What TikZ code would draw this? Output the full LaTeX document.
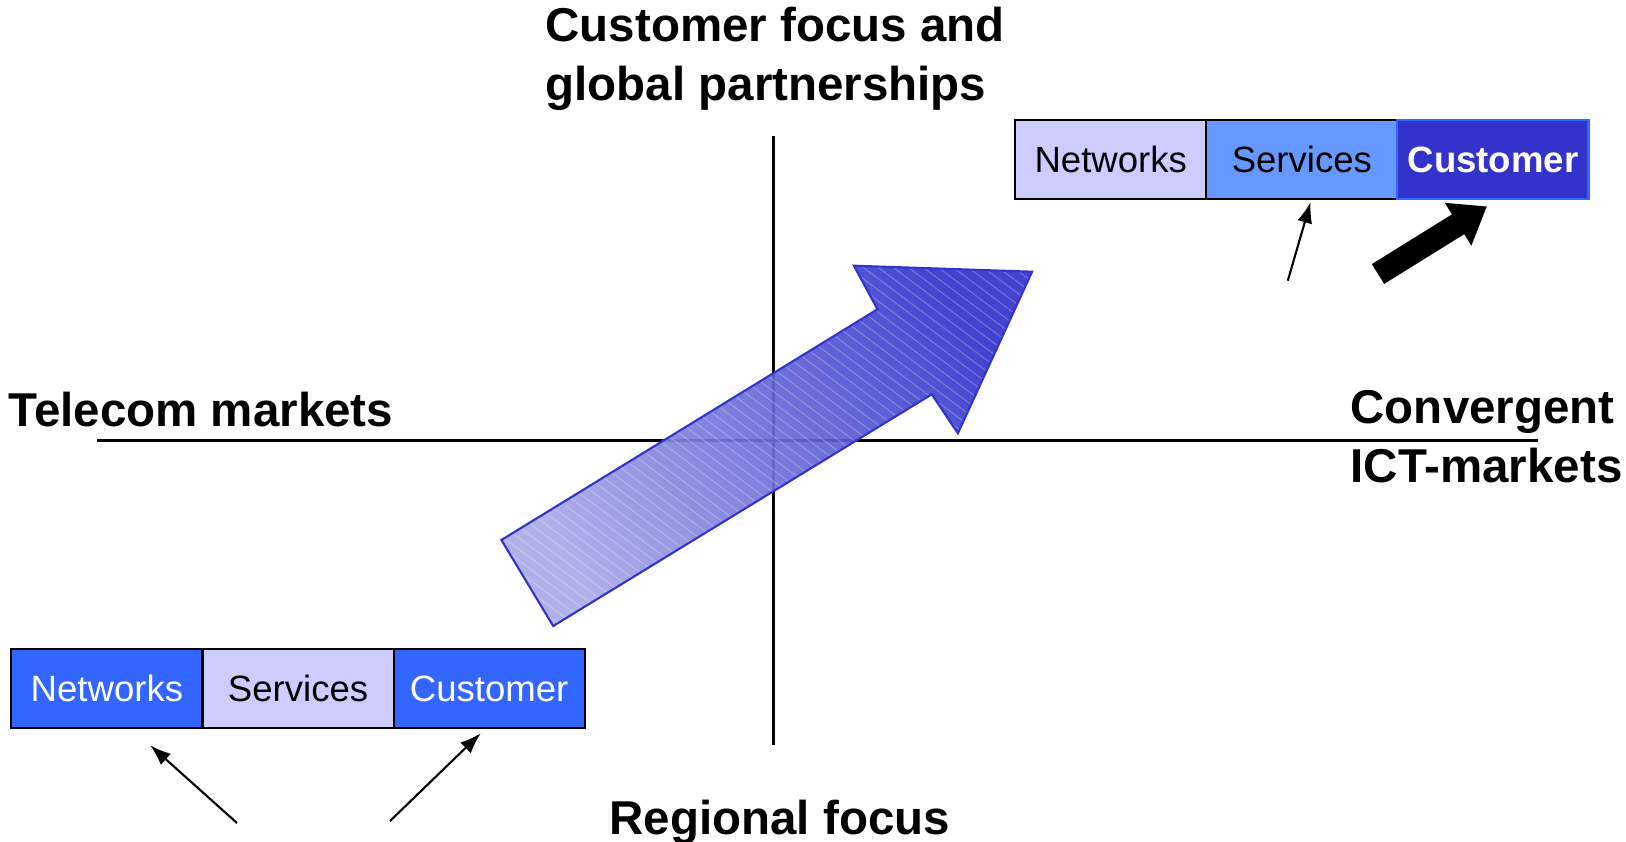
\documentclass[tikz,border=0pt]{standalone}
\usepackage{fontspec}
\setmainfont{Liberation Sans}
\usetikzlibrary{arrows.meta,positioning,calc}
\definecolor{netblue}{HTML}{3366FF}
\definecolor{lavender}{HTML}{CCCCFF}
\definecolor{midblue}{HTML}{6699FF}
\definecolor{deepblue}{HTML}{3333CC}
\definecolor{arrowlight}{HTML}{AAAAE8}

\tikzset{
  cell/.style={rectangle,draw=black,line width=0.6pt,minimum width=1.91cm,minimum height=0.79cm,
    inner sep=0pt,outer sep=0pt,font=\fontsize{10.4}{12}\selectfont},
  heading/.style={inner sep=0pt,align=left,font=\fontsize{13.5}{16.6}\selectfont\bfseries},
  axis/.style={line width=0.7pt},
  pointer/.style={line width=0.6pt,-{Latex[length=2.1mm,width=1.5mm]}},
  hatch/.style={white,line width=0.3pt,opacity=0.25},
}

\begin{document}
\begin{tikzpicture}[x=0.01cm,y=-0.01cm]
	\useasboundingbox (0,0) rectangle (1626,842);

	% the two axes
	\coordinate (xl) at (97,440.5);
	\coordinate (xr) at (1538,440.5);
	\coordinate (yt) at (773.6,136);
	\coordinate (yb) at (773.6,745);
	\draw[axis] (xl) -- (xr);
	\draw[axis] (yt) -- (yb);

	% axis labels (base = last line)
	\node[heading,anchor=base west] (focus) at (545,100) {Customer focus and\\global partnerships};
	\node[heading,anchor=base west] (telecom) at (8,426) {Telecom markets};
	\node[heading,anchor=base west] (ict) at (1350,482) {Convergent\\ICT-markets};
	\node[heading,anchor=base west] (regional) at (609,834) {Regional focus};

	% big shaded arrow
	\coordinate (g1) at (501.4,540);
	\coordinate (g2) at (553.2,626);
	\coordinate (g3) at (931.8,394.3);
	\coordinate (g4) at (957.9,433.3);
	\coordinate (g5) at (1032.1,271.7);
	\coordinate (g6) at (853.9,265.7);
	\coordinate (g7) at (877.5,309.3);
	\shade[top color=deepblue,bottom color=arrowlight,shading angle=-58.5,opacity=0.92]
		(g1) -- (g2) -- (g3) -- (g4) -- (g5) -- (g6) -- (g7) -- cycle;
	\begin{scope}
		\clip (g1) -- (g2) -- (g3) -- (g4) -- (g5) -- (g6) -- (g7) -- cycle;
		\foreach \k in {0,15,...,1035}
			\draw[hatch] (\k,250) -- ++(520,390);
	\end{scope}
	\draw[deepblue,line width=0.6pt] (g1) -- (g2) -- (g3) -- (g4) -- (g5) -- (g6) -- (g7) -- cycle;

	% value chain, regional
	\node[cell,fill=netblue,text=white,anchor=north west] (net1) at (11.4,649.2) {Networks};
	\node[cell,fill=lavender,right=0pt of net1] (srv1) {Services};
	\node[cell,fill=netblue,text=white,right=0pt of srv1] (cus1) {Customer};

	% value chain, global
	\node[cell,fill=lavender,anchor=north west] (net2) at (1015.2,120.3) {Networks};
	\node[cell,fill=midblue,right=0pt of net2] (srv2) {Services};
	\node[cell,draw=netblue,fill=deepblue,text=white,font=\fontsize{10.4}{12}\selectfont\bfseries,right=0pt of srv2] (cus2) {Customer};

	% pointers
	\coordinate (p1) at (237,823);
	\coordinate (p2) at (390,821);
	\coordinate (p3) at (1287.8,280.7);
	\coordinate (p4) at (1378,274);
	\draw[pointer] (p1) -- ($(net1.south)+(43.2,17)$);
	\draw[pointer] (p2) -- ($(cus1.south)+(-8.4,5)$);
	\draw[pointer] (p3) -- ($(srv2.south)+(8.8,2.6)$);
	\draw[line width=0.233cm,-{Triangle[length=3.4mm,width=4.8mm]}] (p4) -- ($(cus2.south)+(-6,7)$);
\end{tikzpicture}
\end{document}
